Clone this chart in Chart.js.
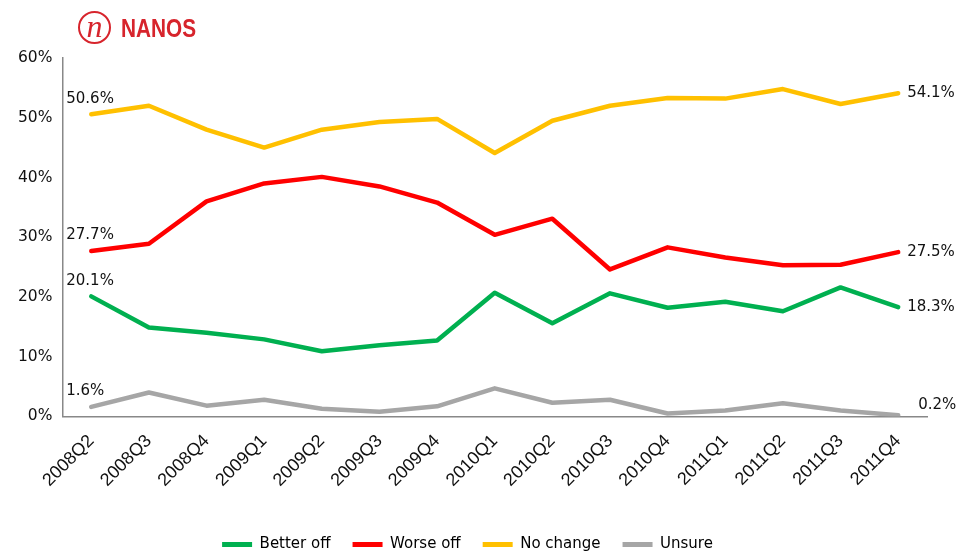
<!DOCTYPE html>
<html lang="en">
<head>
    <meta charset="UTF-8">
    <title>Nanos - Financial situation</title>
    <script src="https://cdn.jsdelivr.net/npm/chart.js"></script>
    <style>
        body {
            margin: 0;
            background: #fff;
            font-family: "DejaVu Sans", sans-serif;
        }
        #wrap {
            position: relative;
            width: 974px;
            height: 555px;
        }
        #logo {
            position: absolute;
            left: 78px;
            top: 11px;
            color: #d7242c;
        }
        #logo .ring {
            position: absolute;
            left: 0;
            top: 0;
            width: 29px;
            height: 29px;
            border: 2.5px solid #d7242c;
            border-radius: 50%;
            text-align: center;
            font: italic 32px/26px "Liberation Serif", serif;
        }
        #logo .name {
            position: absolute;
            left: 43px;
            top: 3px;
            white-space: nowrap;
            transform: scaleX(0.8);
            transform-origin: left top;
            font: bold 26px/28px "Liberation Sans", sans-serif;
        }
    </style>
</head>
<body>
<div id="wrap">
    <canvas id="chart" width="974" height="555"></canvas>
    <div id="logo"><div class="ring">n</div><div class="name">NANOS</div></div>
</div>
<script>
    const quarters = ["2008Q2", "2008Q3", "2008Q4", "2009Q1", "2009Q2", "2009Q3", "2009Q4",
        "2010Q1", "2010Q2", "2010Q3", "2010Q4", "2011Q1", "2011Q2", "2011Q3", "2011Q4"];
    const betterOff = [20.1, 14.9, 14.0, 12.9, 10.9, 11.9, 12.7, 20.7, 15.6, 20.6, 18.2, 19.2, 17.6, 21.6, 18.3];
    const worseOff = [27.7, 28.9, 36.0, 39.0, 40.1, 38.5, 35.8, 30.4, 33.1, 24.6, 28.3, 26.6, 25.3, 25.4, 27.5];
    const noChange = [50.6, 52.0, 48.0, 45.0, 48.0, 49.3, 49.8, 44.1, 49.5, 52.0, 53.3, 53.2, 54.8, 52.3, 54.1];
    const unsure = [1.6, 4.0, 1.8, 2.8, 1.3, 0.8, 1.7, 4.7, 2.3, 2.8, 0.5, 1.0, 2.2, 1.0, 0.2];

    function series(label, data, color) {
        return {
            label: label,
            data: data,
            borderColor: color,
            backgroundColor: color,
            borderWidth: 4.5,
            pointRadius: 0,
            tension: 0,
            borderCapStyle: "round",
            borderJoinStyle: "round"
        };
    }

    // labels on first and last point of each line
    const endLabels = {
        id: "endLabels",
        afterDatasetsDraw(chart) {
            const ctx = chart.ctx;
            ctx.save();
            ctx.font = "15px 'DejaVu Sans', sans-serif";
            ctx.fillStyle = "#111";
            chart.data.datasets.forEach((ds, i) => {
                const pts = chart.getDatasetMeta(i).data;
                const first = pts[0];
                const last = pts[pts.length - 1];
                const v0 = ds.data[0];
                const v1 = ds.data[ds.data.length - 1];
                ctx.textAlign = "left";
                ctx.textBaseline = "bottom";
                ctx.fillText(v0.toFixed(1) + "%", first.x - 25, first.y - 8);
                if (v1 < 1) {
                    ctx.textBaseline = "bottom";
                    ctx.fillText(v1.toFixed(1) + "%", last.x + 20, last.y - 3);
                } else {
                    ctx.textBaseline = "middle";
                    ctx.fillText(v1.toFixed(1) + "%", last.x + 9, last.y);
                }
            });
            ctx.restore();
        }
    };

    new Chart(document.getElementById("chart"), {
        type: "line",
        data: {
            labels: quarters,
            datasets: [
                series("Better off", betterOff, "#00b050"),
                series("Worse off", worseOff, "#ff0000"),
                series("No change", noChange, "#ffc000"),
                series("Unsure", unsure, "#a6a6a6")
            ]
        },
        options: {
            responsive: false,
            animation: false,
            layout: {
                padding: { top: 58, right: 47, left: 8, bottom: -7 }
            },
            plugins: {
                tooltip: { enabled: false },
                legend: {
                    position: "bottom",
                    labels: {
                        boxWidth: 30,
                        boxHeight: 5,
                        color: "#111",
                        font: { family: "DejaVu Sans", size: 15 },
                        padding: 22,
                        generateLabels(chart) {
                            return chart.data.datasets.map((ds, i) => ({
                                text: ds.label,
                                fillStyle: ds.borderColor,
                                strokeStyle: ds.borderColor,
                                lineWidth: 0,
                                datasetIndex: i
                            }));
                        }
                    }
                }
            },
            scales: {
                x: {
                    offset: true,
                    grid: { display: false, drawTicks: false },
                    border: { display: true, color: "#888", width: 1.5 },
                    afterFit(scale) {
                        scale.height += 10;
                    },
                    ticks: {
                        minRotation: 45,
                        maxRotation: 45,
                        padding: 14,
                        color: "#111",
                        font: { family: "Liberation Sans", size: 18 }
                    }
                },
                y: {
                    min: 0,
                    max: 60,
                    grid: { display: false, drawTicks: false },
                    border: { display: true, color: "#888", width: 1.5 },
                    ticks: {
                        stepSize: 10,
                        padding: 10,
                        color: "#111",
                        font: { family: "DejaVu Sans", size: 15.5 },
                        callback: v => v + "%"
                    }
                }
            }
        },
        plugins: [endLabels]
    });
</script>
</body>
</html>
